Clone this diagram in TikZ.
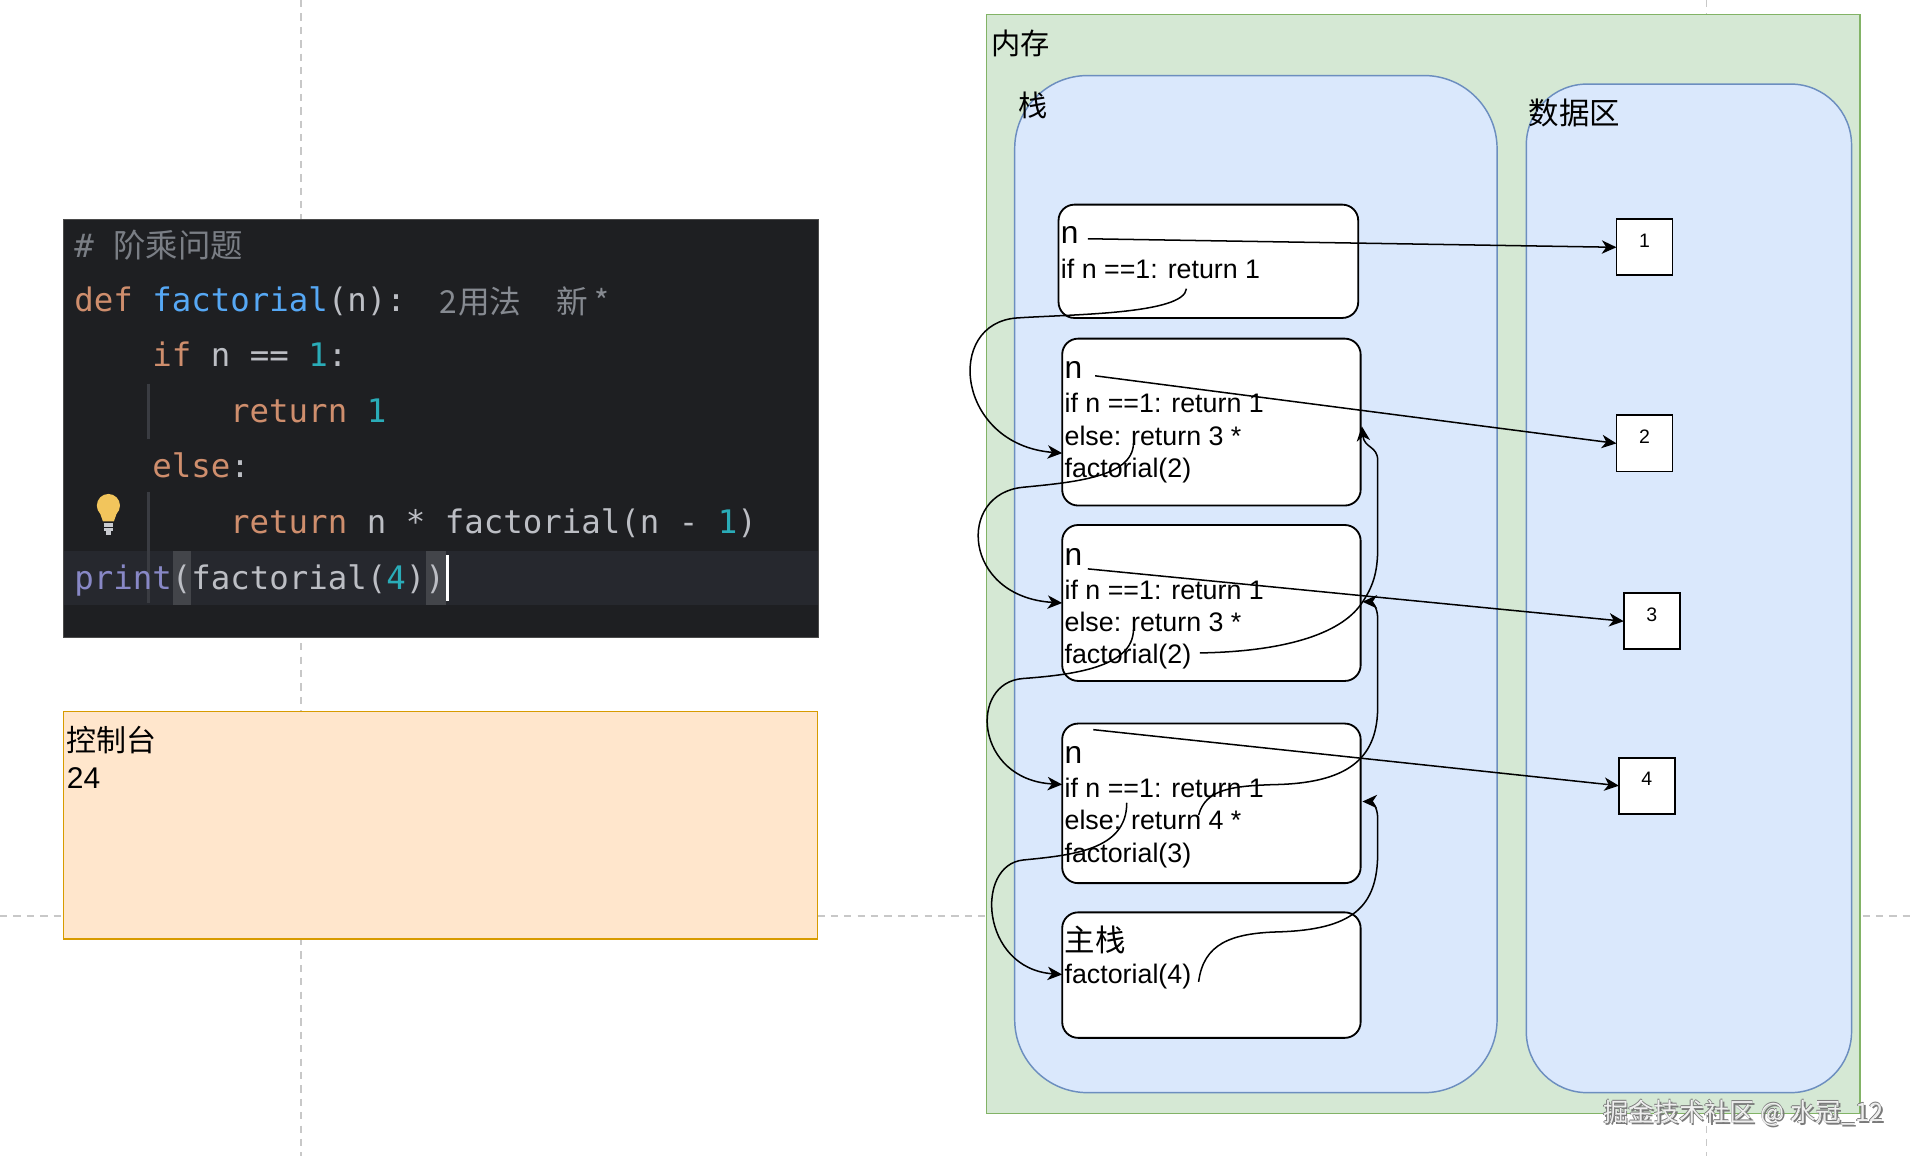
\documentclass[tikz,border=0pt]{standalone}
\usepackage{fontspec}
\setmainfont{Liberation Sans}
\newfontfamily\cjk{Noto Sans CJK SC}
\newfontfamily\codefont{DejaVu Sans Mono}
\usetikzlibrary{arrows.meta,fit}
\definecolor{pagegray}{HTML}{C8C8C8}
\definecolor{codebg}{HTML}{1E1F22}
\definecolor{codeline}{HTML}{26282E}
\definecolor{codeborder}{HTML}{4A4A4A}
\definecolor{bracebg}{HTML}{43454A}
\definecolor{guide}{HTML}{3A3C42}
\definecolor{kw}{HTML}{CF8E6D}
\definecolor{fn}{HTML}{56A8F5}
\definecolor{num}{HTML}{2AACB8}
\definecolor{txt}{HTML}{BCBEC4}
\definecolor{cmt}{HTML}{7A7E85}
\definecolor{bi}{HTML}{8888C6}
\definecolor{hint}{HTML}{868A91}
\definecolor{bulb}{HTML}{F2C55C}
\definecolor{bulbbase}{HTML}{C9CBD0}
\definecolor{consolefill}{HTML}{FFE6CC}
\definecolor{consoledraw}{HTML}{D79B00}
\definecolor{memfill}{HTML}{D5E8D4}
\definecolor{memdraw}{HTML}{82B366}
\definecolor{areafill}{HTML}{DAE8FC}
\definecolor{areadraw}{HTML}{6C8EBF}
\definecolor{wmfill}{HTML}{EFEFEF}
\definecolor{wmshadow}{HTML}{7A7A7A}
\tikzset{
  pageline/.style={draw=pagegray, line width=0.6pt, dash pattern=on 3pt off 2.5pt},
  fitbox/.style={inner sep=0pt, outer sep=0pt},
  framebox/.style={fitbox, draw=black, fill=white, line width=0.75pt, rounded corners=6.5pt},
  valbox/.style={fitbox, draw=black, fill=white, line width=0.75pt, font=\fontsize{8pt}{9.5pt}\selectfont},
  conn/.style={draw=black, line width=0.62pt, -{Stealth[length=6pt,width=5.5pt,inset=1.8pt]}},
  tbase/.style={anchor=base west, inner sep=0pt, outer sep=0pt},
  frametxt/.style={tbase, font=\fontsize{11pt}{13pt}\selectfont},
  vartxt/.style={tbase, font=\fontsize{13pt}{15pt}\selectfont},
  cjklabel/.style={tbase, font=\cjk\fontsize{12pt}{14pt}\selectfont},
  codetxt/.style={tbase, font=\codefont\fontsize{13.3pt}{16pt}\selectfont},
  hinttxt/.style={tbase, text=hint, font=\cjk\fontsize{13pt}{15pt}\selectfont},
  wm/.style={tbase, font=\cjk\fontsize{10.4pt}{12pt}\selectfont},
}
\begin{document}
\begin{tikzpicture}[x=0.5pt,y=-0.5pt]
\useasboundingbox (0,0) rectangle (1568,949);
\fill[white] (0,0) rectangle (1568,949);
% page break guides
\draw[pageline] (247,0) -- (247,949);
\draw[pageline] (0,752) -- (1568,752);
\draw[pageline] (1401,0) -- (1401,949);

% ---------- code editor ----------
\node[fitbox, fill=codebg, draw=codeborder, line width=0.4pt, fit={(52,180) (672,523)}] (code) {};
\fill[codeline] (52.3,452) rectangle (671.7,497);
\fill[bracebg] (142,452) rectangle (157,497);
\fill[bracebg] (350,452) rectangle (366,497);
\draw[guide, line width=1pt] (122,315) -- (122,360);
\draw[guide, line width=1pt] (122,404) -- (122,495);
\node[codetxt, text=cmt] (c1) at (61,211) {\#};
\node[tbase, text=cmt, font=\cjk\fontsize{13.3pt}{16pt}\selectfont] (c1b) at (93,211) {阶乘问题};
\node[codetxt] (c2) at (61,256) {\color{kw}def \color{fn}factorial\color{txt}(n):};
\node[hinttxt] (h1) at (361,257) {2};
\node[hinttxt] (h2) at (376,257) {用法};
\node[hinttxt] (h3) at (457,257) {新};
\node[hinttxt] (h4) at (488,257) {*};
\node[codetxt] (c3) at (125,301) {\color{kw}if \color{txt}n == \color{num}1\color{txt}:};
\node[codetxt] (c4) at (189,347) {\color{kw}return \color{num}1};
\node[codetxt] (c5) at (125,392) {\color{kw}else\color{txt}:};
\node[codetxt] (c6) at (189,438) {\color{kw}return \color{txt}n * factorial(n - \color{num}1\color{txt})};
\node[codetxt] (c7) at (61,484) {\color{bi}print\color{txt}(factorial(\color{num}4\color{txt}))};
\fill[white] (366.5,456) rectangle (369,493);
% lightbulb
\fill[bulb] (89,415) circle [radius=9.5];
\fill[bulb] (81,418) -- (97,418) -- (93.5,428) -- (84.5,428) -- cycle;
\draw[bulbbase, line width=1.3pt] (85,431) -- (93,431);
\draw[bulbbase, line width=1.3pt] (85.5,434.5) -- (92.5,434.5);
\draw[bulbbase, line width=1.3pt] (87,437.5) -- (91,437.5);

% ---------- console ----------
\node[fitbox, fill=consolefill, draw=consoledraw, line width=0.6pt, fit={(52,584) (671,771)}] (console) {};
\node[cjklabel, font=\cjk\fontsize{12.3pt}{14pt}\selectfont] (consolet) at (55,617) {控制台};
\node[tbase, font=\fontsize{12.3pt}{14pt}\selectfont] (consolev) at (55,647) {24};

% ---------- memory ----------
\node[fitbox, fill=memfill, draw=memdraw, line width=0.6pt, fit={(810,12) (1527,914)}] (mem) {};
\node[cjklabel] (memt) at (814,45) {内存};
\node[fitbox, fill=areafill, draw=areadraw, line width=0.6pt, rounded corners=30pt, fit={(833,62) (1229,897)}] (stack) {};
\node[cjklabel] (stackt) at (836,96) {栈};
\node[fitbox, fill=areafill, draw=areadraw, line width=0.6pt, rounded corners=25pt, fit={(1253,69) (1520,897)}] (data) {};
\node[cjklabel, font=\cjk\fontsize{12.5pt}{14pt}\selectfont] (datat) at (1255,102) {数据区};

% frames
\node[framebox, fit={(869,168) (1115,261)}] (fA) {};
\node[framebox, fit={(872,278) (1117,415)}] (fB) {};
\node[framebox, fit={(872,431) (1117,559)}] (fC) {};
\node[framebox, fit={(872,594) (1117,725)}] (fD) {};
\node[framebox, fit={(872,749) (1117,852)}] (fE) {};

\node[vartxt] (tA0) at (871,200) {n};
\node[frametxt] (tA1) at (871,229) {if n ==1: return 1};

\node[vartxt] (tB0) at (874,311) {n};
\node[frametxt] (tB1) at (874,339) {if n ==1: return 1};
\node[frametxt] (tB2) at (874,365.5) {else: return 3 *};
\node[frametxt] (tB3) at (874,392) {factorial(2)};

\node[vartxt] (tC0) at (874,464) {n};
\node[frametxt] (tC1) at (874,492) {if n ==1: return 1};
\node[frametxt] (tC2) at (874,518.5) {else: return 3 *};
\node[frametxt] (tC3) at (874,545) {factorial(2)};

\node[vartxt] (tD0) at (874,627) {n};
\node[frametxt] (tD1) at (874,655) {if n ==1: return 1};
\node[frametxt] (tD2) at (874,681) {else: return 4 *};
\node[frametxt] (tD3) at (874,708) {factorial(3)};

\node[cjklabel, font=\cjk\fontsize{12.5pt}{14pt}\selectfont] (tE0) at (874,781) {主栈};
\node[frametxt] (tE1) at (874,807) {factorial(4)};

% values
\node[valbox, fit={(1327,180) (1373,226)}] (v1) {1};
\node[valbox, fit={(1327,341) (1373,387)}] (v2) {2};
\node[valbox, fit={(1333,487) (1379,533)}] (v3) {3};
\node[valbox, fit={(1329,622) (1375,668)}] (v4) {4};

% connector end points
\coordinate (nA) at (893,196);
\coordinate (nB) at (899,308.5);
\coordinate (nC) at (893,467);
\coordinate (nD) at (897.5,599);
\coordinate (sA) at (974,237);
\coordinate (sB) at (930.5,364);
\coordinate (sC) at (930.5,517);
\coordinate (sD) at (925,659);
\coordinate (eB) at (872,372);
\coordinate (eC) at (872,495);
\coordinate (eD) at (872,644);
\coordinate (eE) at (872,800);
\coordinate (rC) at (985,536);
\coordinate (rD) at (984,669);
\coordinate (rE) at (984,806);
\coordinate (uB) at (1118,350);
\coordinate (uC) at (1118.5,494);
\coordinate (uD) at (1118.5,658);

% n -> value
\draw[conn] (nA) -- (v1.west);
\draw[conn] (nB) -- (v2.west);
\draw[conn] (nC) -- (v3.west);
\draw[conn] (nD) -- (v4.west);

% calls (left side)
\draw[conn] (sA) .. controls (972,258) and (880,258) .. (835,261) .. controls (775,265) and (785,365) .. (eB);
\draw[conn] (sB) .. controls (930,392) and (880,396) .. (840,400) .. controls (785,405) and (790,490) .. (eC);
\draw[conn] (sC) .. controls (930,548) and (880,554) .. (840,557) .. controls (795,560) and (800,640) .. (eD);
\draw[conn] (sD) .. controls (925,698) and (880,702) .. (840,706) .. controls (800,710) and (805,795) .. (eE);

% returns (right side)
\draw[conn] (rC) .. controls (1050,535) and (1100,522) .. (1118,495) .. controls (1127,482) and (1131,470) .. (1131,450) -- (1131,378) .. controls (1131,366) and (1120,368) .. (uB);
\draw[conn] (rD) .. controls (990,648) and (1010,645) .. (1050,644) .. controls (1110,642) and (1131,620) .. (1131,580) -- (1131,508) .. controls (1131,498) and (1126,494) .. (uC);
\draw[conn] (rE) .. controls (988,775) and (1010,766) .. (1050,765) .. controls (1110,763) and (1131,745) .. (1131,700) -- (1131,672) .. controls (1131,662) and (1126,658) .. (uD);

% watermark
\node[wm, text=wmshadow] (wm1) at (1317.5,922.5) {掘金技术社区 @ 水冠\_12};
\node[wm, text=wmshadow] (wm2) at (1315.5,921) {掘金技术社区 @ 水冠\_12};
\node[wm, text=wmshadow] (wm3) at (1316,919.8) {掘金技术社区 @ 水冠\_12};
\node[wm, text=wmfill] (wm0) at (1316,921) {掘金技术社区 @ 水冠\_12};
\end{tikzpicture}
\end{document}
